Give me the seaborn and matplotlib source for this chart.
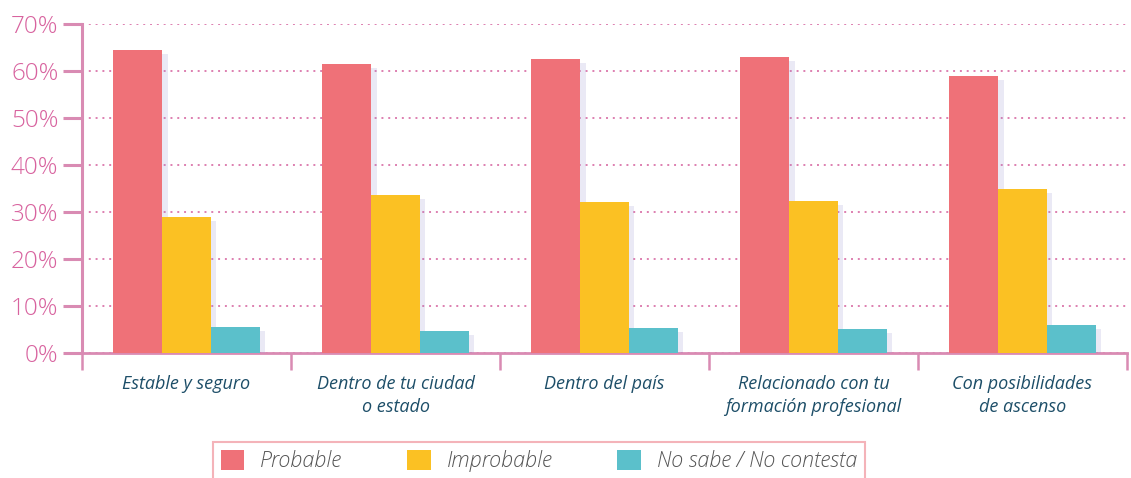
import pandas as pd
import seaborn as sns
import matplotlib.pyplot as plt
from matplotlib.patches import Patch
import matplotlib.patheffects as pe

# Datos
categorias = ["Estable y seguro", "Dentro de tu ciudad\no estado", "Dentro del país",
              "Relacionado con tu\nformación profesional", "Con posibilidades\nde ascenso"]
series = ["Probable", "Improbable", "No sabe / No contesta"]
probable = [64.5, 61.5, 62.6, 63.0, 58.9]
improbable = [28.9, 33.6, 32.1, 32.3, 34.9]
no_sabe = [5.5, 4.7, 5.3, 5.1, 6.0]
yticks = [0, 10, 20, 30, 40, 50, 60, 70]

colores = ["#ef7178", "#fbc123", "#5bc0cb"]
rosa = "#d98bb3"

filas = []
for serie, valores in zip(series, [probable, improbable, no_sabe]):
    for cat, v in zip(categorias, valores):
        filas.append({"categoria": cat, "serie": serie, "valor": v})
df = pd.DataFrame(filas)

sns.set_style("white")
plt.rcParams['font.family'] = ['Open Sans', 'DejaVu Sans']

fig = plt.figure(figsize=(11.31, 4.78), dpi=100)
ax = fig.add_axes([82 / 1131, 125 / 478, 1045 / 1131, 329 / 478])

sns.barplot(data=df, x="categoria", y="valor", hue="serie", order=categorias,
            hue_order=series, palette=colores, width=0.7, saturation=1,
            legend=False, ax=ax, zorder=3)

# sombra suave detras de las barras
for barra in ax.patches:
    barra.set_linewidth(0)
    barra.set_path_effects([pe.SimplePatchShadow(offset=(4, -3), shadow_rgbFace="#9088cc", alpha=0.18),
                            pe.Normal()])

ax.set_xlim(-0.5, 4.5)
ax.set_ylim(0, 70)
ax.set_yticks(yticks)
ax.set_yticklabels([f"{t}%" for t in yticks], color="#d8639f", fontsize=17.5, fontweight="light")
ax.yaxis.grid(True, linestyle=(0, (1, 2.5)), color="#dd7fb0", linewidth=1.4, zorder=0)
ax.tick_params(axis="y", left=True, length=14, width=2.2, color=rosa, pad=3)

# marcas entre categorias en el eje x
ax.set_xticks([-0.5, 0.5, 1.5, 2.5, 3.5, 4.5])
ax.set_xticklabels([])
ax.tick_params(axis="x", bottom=True, length=12.5, width=1.8, color=rosa, direction="out")
for i, cat in enumerate(categorias):
    ax.text(i, -4.6, cat, ha="center", va="top", fontsize=13, style="italic",
            color="#1d4e68", linespacing=1.35)

ax.set_xlabel("")
ax.set_ylabel("")
for lado in ["top", "right"]:
    ax.spines[lado].set_visible(False)
ax.spines["left"].set_color(rosa)
ax.spines["left"].set_linewidth(2.2)
ax.spines["bottom"].set_color(rosa)
ax.spines["bottom"].set_linewidth(2)

handles = [Patch(facecolor=c, edgecolor="none") for c in colores]
leg = fig.legend(handles, series, loc="center", bbox_to_anchor=(539 / 1131, 1 - 461 / 478),
                 ncol=3, frameon=True, fancybox=False,
                 handlelength=1.1, handleheight=1.1, columnspacing=3.0, handletextpad=0.75,
                 borderpad=0.35, prop={"style": "italic", "weight": "light", "size": 15.5})
leg.get_frame().set_edgecolor("#f2a0a8")
leg.get_frame().set_linewidth(1.5)
for t in leg.get_texts():
    t.set_color("#555555")

fig.savefig("out.png", dpi=100)
